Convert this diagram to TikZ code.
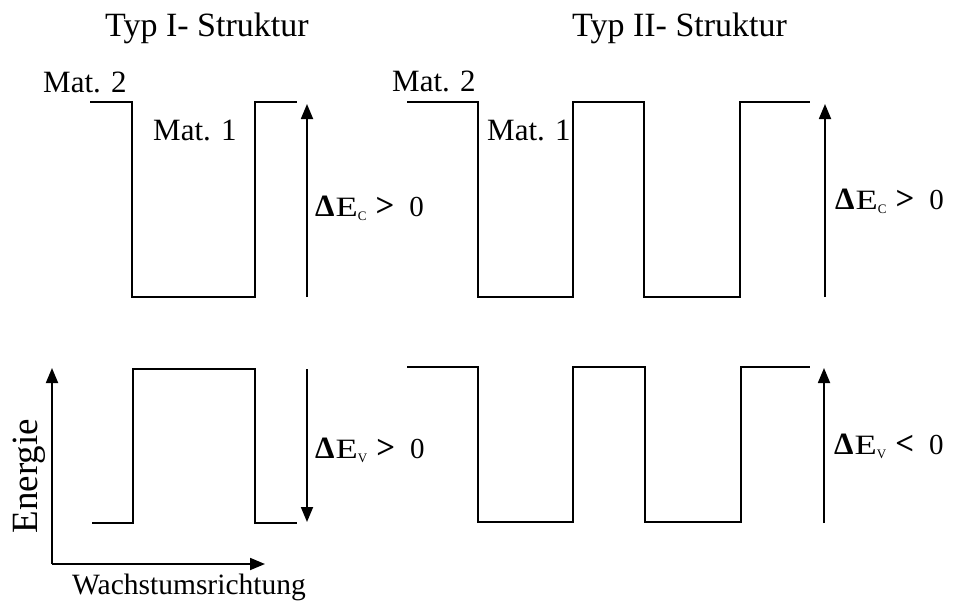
\documentclass[tikz,border=0pt]{standalone}
\usepackage{fontspec}
\setmainfont{Liberation Serif}
\usetikzlibrary{arrows.meta}
% band offset label: Delta E_sub relation 0
\newcommand{\offs}[2]{%
  {\fontsize{31}{31}\selectfont\bfseries Δ}\hspace{1pt}%
  \scalebox{1.3}[1]{\fontsize{28}{28}\selectfont E}%
  \raisebox{-4pt}{\fontsize{13}{13}\selectfont #1}\hspace{9pt}%
  {\fontsize{33}{33}\selectfont\bfseries #2}\hspace{15pt}%
  {\fontsize{29}{29}\selectfont 0}}
\begin{document}
\begin{tikzpicture}[x=1pt,y=-1pt,
  band/.style={line width=1.8pt, line join=miter},
  gap/.style={-{Triangle[length=15pt,width=12pt]}, line width=1.8pt},
  lbl/.style={font=\fontsize{31}{34}\selectfont, inner sep=0pt},
  title/.style={font=\fontsize{34}{38}\selectfont, inner sep=0pt},
  offlbl/.style={inner sep=0pt}]
\useasboundingbox (0,0) rectangle (955,600);

% titles
\node[title, anchor=base west] (t1) at (105,36) {Typ I- Struktur};
\node[title, anchor=base west] (t2) at (572,36) {Typ II- Struktur};

% Typ I: conduction band and valence band
\draw[band] (90,102) -| (132,297) -| (255,102) -- (297,102);
\draw[band] (92,523) -| (133,369) -| (255,523) -- (297,523);

% Typ II: conduction band and valence band
\draw[band] (407,102) -| (478,297) -| (573,102) -| (644,297) -| (740,102) -- (810,102);
\draw[band] (407,367) -| (478,522) -| (573,367) -| (645,522) -| (741,367) -- (810,367);

% material labels
\node[lbl, anchor=base west] (m2a) at (43,92) {Mat. 2};
\node[lbl, anchor=base west] (m1a) at (153,140) {Mat. 1};
\node[lbl, anchor=base west] (m2b) at (392,91) {Mat. 2};
\node[lbl, anchor=base west] (m1b) at (487,140) {Mat. 1};

% band offset arrows
\coordinate (c1b) at (307,297); \coordinate (c1t) at (307,104);
\coordinate (v1t) at (307,369); \coordinate (v1b) at (307,522);
\coordinate (c2b) at (825,297); \coordinate (c2t) at (825,104);
\coordinate (v2b) at (824,523); \coordinate (v2t) at (824,368);
\draw[gap] (c1b) -- (c1t);
\draw[gap] (v1t) -- (v1b);
\draw[gap] (c2b) -- (c2t);
\draw[gap] (v2b) -- (v2t);

\node[offlbl, anchor=base west] (dc1) at (315,216) {\offs{C}{>}};
\node[offlbl, anchor=base west] (dv1) at (315,458) {\offs{V}{>}};
\node[offlbl, anchor=base west] (dc2) at (835,209) {\offs{C}{>}};
\node[offlbl, anchor=base west] (dv2) at (834,454) {\offs{V}{<}};

% axes
\coordinate (o) at (52,564);
\coordinate (ey) at (52,368);
\coordinate (ex) at (265,564);
\draw[gap] (o) -- (ey);
\draw[gap] (o) -- (ex);
\node[font=\fontsize{37}{40}\selectfont, inner sep=0pt, anchor=base, rotate=90] (en) at (37,476) {Energie};
\node[font=\fontsize{29.5}{32}\selectfont, inner sep=0pt, anchor=base west] (wr) at (72,594) {Wachstumsrichtung};
\end{tikzpicture}
\end{document}
